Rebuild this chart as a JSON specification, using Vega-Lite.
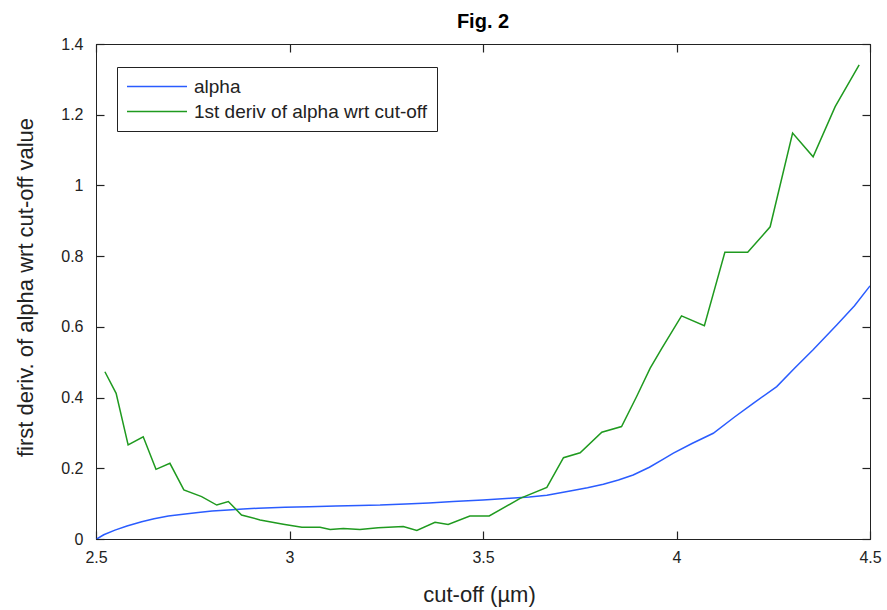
{
  "$schema": "https://vega.github.io/schema/vega-lite/v6.json",
  "width": 774,
  "height": 495,
  "autosize": {"type": "none"},
  "padding": {"left": 96, "top": 44, "right": 17, "bottom": 71},
  "background": "white",
  "title": {"text": "Fig. 2", "fontSize": 20, "fontWeight": "bold", "font": "Liberation Sans", "anchor": "middle", "offset": 4, "color": "black"},
  "config": {
    "font": "Liberation Sans",
    "view": {"stroke": "black", "strokeWidth": 1},
    "axis": {"grid": false, "domainColor": "#222", "tickColor": "#222", "labelColor": "#222", "titleColor": "#222", "labelFont": "Liberation Sans", "titleFont": "Liberation Sans", "titleFontWeight": "normal"}
  },
  "datasets": {
    "curves": [
      {"x": 2.502, "y": 0.0, "s": "alpha"},
      {"x": 2.52, "y": 0.012, "s": "alpha"},
      {"x": 2.549, "y": 0.025, "s": "alpha"},
      {"x": 2.58, "y": 0.037, "s": "alpha"},
      {"x": 2.618, "y": 0.049, "s": "alpha"},
      {"x": 2.65, "y": 0.057, "s": "alpha"},
      {"x": 2.687, "y": 0.065, "s": "alpha"},
      {"x": 2.725, "y": 0.07, "s": "alpha"},
      {"x": 2.764, "y": 0.075, "s": "alpha"},
      {"x": 2.8, "y": 0.079, "s": "alpha"},
      {"x": 2.842, "y": 0.082, "s": "alpha"},
      {"x": 2.88, "y": 0.085, "s": "alpha"},
      {"x": 2.919, "y": 0.087, "s": "alpha"},
      {"x": 2.988, "y": 0.09, "s": "alpha"},
      {"x": 3.05, "y": 0.091, "s": "alpha"},
      {"x": 3.12, "y": 0.093, "s": "alpha"},
      {"x": 3.18, "y": 0.095, "s": "alpha"},
      {"x": 3.234, "y": 0.096, "s": "alpha"},
      {"x": 3.3, "y": 0.099, "s": "alpha"},
      {"x": 3.36, "y": 0.102, "s": "alpha"},
      {"x": 3.423, "y": 0.106, "s": "alpha"},
      {"x": 3.5, "y": 0.11, "s": "alpha"},
      {"x": 3.57, "y": 0.115, "s": "alpha"},
      {"x": 3.62, "y": 0.119, "s": "alpha"},
      {"x": 3.665, "y": 0.124, "s": "alpha"},
      {"x": 3.725, "y": 0.136, "s": "alpha"},
      {"x": 3.77, "y": 0.145, "s": "alpha"},
      {"x": 3.811, "y": 0.155, "s": "alpha"},
      {"x": 3.85, "y": 0.167, "s": "alpha"},
      {"x": 3.888, "y": 0.181, "s": "alpha"},
      {"x": 3.93, "y": 0.203, "s": "alpha"},
      {"x": 3.966, "y": 0.226, "s": "alpha"},
      {"x": 3.992, "y": 0.243, "s": "alpha"},
      {"x": 4.04, "y": 0.27, "s": "alpha"},
      {"x": 4.095, "y": 0.299, "s": "alpha"},
      {"x": 4.15, "y": 0.345, "s": "alpha"},
      {"x": 4.2, "y": 0.385, "s": "alpha"},
      {"x": 4.259, "y": 0.431, "s": "alpha"},
      {"x": 4.305, "y": 0.483, "s": "alpha"},
      {"x": 4.353, "y": 0.535, "s": "alpha"},
      {"x": 4.414, "y": 0.605, "s": "alpha"},
      {"x": 4.46, "y": 0.66, "s": "alpha"},
      {"x": 4.5, "y": 0.716, "s": "alpha"},
      {"x": 2.523, "y": 0.473, "s": "1st deriv of alpha wrt cut-off"},
      {"x": 2.552, "y": 0.412, "s": "1st deriv of alpha wrt cut-off"},
      {"x": 2.583, "y": 0.266, "s": "1st deriv of alpha wrt cut-off"},
      {"x": 2.622, "y": 0.289, "s": "1st deriv of alpha wrt cut-off"},
      {"x": 2.655, "y": 0.197, "s": "1st deriv of alpha wrt cut-off"},
      {"x": 2.691, "y": 0.214, "s": "1st deriv of alpha wrt cut-off"},
      {"x": 2.727, "y": 0.139, "s": "1st deriv of alpha wrt cut-off"},
      {"x": 2.773, "y": 0.12, "s": "1st deriv of alpha wrt cut-off"},
      {"x": 2.812, "y": 0.096, "s": "1st deriv of alpha wrt cut-off"},
      {"x": 2.842, "y": 0.106, "s": "1st deriv of alpha wrt cut-off"},
      {"x": 2.876, "y": 0.068, "s": "1st deriv of alpha wrt cut-off"},
      {"x": 2.924, "y": 0.054, "s": "1st deriv of alpha wrt cut-off"},
      {"x": 2.984, "y": 0.042, "s": "1st deriv of alpha wrt cut-off"},
      {"x": 3.032, "y": 0.033, "s": "1st deriv of alpha wrt cut-off"},
      {"x": 3.079, "y": 0.033, "s": "1st deriv of alpha wrt cut-off"},
      {"x": 3.105, "y": 0.027, "s": "1st deriv of alpha wrt cut-off"},
      {"x": 3.139, "y": 0.03, "s": "1st deriv of alpha wrt cut-off"},
      {"x": 3.182, "y": 0.027, "s": "1st deriv of alpha wrt cut-off"},
      {"x": 3.229, "y": 0.032, "s": "1st deriv of alpha wrt cut-off"},
      {"x": 3.294, "y": 0.035, "s": "1st deriv of alpha wrt cut-off"},
      {"x": 3.329, "y": 0.024, "s": "1st deriv of alpha wrt cut-off"},
      {"x": 3.376, "y": 0.047, "s": "1st deriv of alpha wrt cut-off"},
      {"x": 3.41, "y": 0.041, "s": "1st deriv of alpha wrt cut-off"},
      {"x": 3.466, "y": 0.065, "s": "1st deriv of alpha wrt cut-off"},
      {"x": 3.516, "y": 0.065, "s": "1st deriv of alpha wrt cut-off"},
      {"x": 3.596, "y": 0.115, "s": "1st deriv of alpha wrt cut-off"},
      {"x": 3.665, "y": 0.146, "s": "1st deriv of alpha wrt cut-off"},
      {"x": 3.708, "y": 0.23, "s": "1st deriv of alpha wrt cut-off"},
      {"x": 3.751, "y": 0.244, "s": "1st deriv of alpha wrt cut-off"},
      {"x": 3.807, "y": 0.302, "s": "1st deriv of alpha wrt cut-off"},
      {"x": 3.858, "y": 0.318, "s": "1st deriv of alpha wrt cut-off"},
      {"x": 3.897, "y": 0.403, "s": "1st deriv of alpha wrt cut-off"},
      {"x": 3.932, "y": 0.483, "s": "1st deriv of alpha wrt cut-off"},
      {"x": 3.962, "y": 0.539, "s": "1st deriv of alpha wrt cut-off"},
      {"x": 4.013, "y": 0.631, "s": "1st deriv of alpha wrt cut-off"},
      {"x": 4.072, "y": 0.603, "s": "1st deriv of alpha wrt cut-off"},
      {"x": 4.125, "y": 0.811, "s": "1st deriv of alpha wrt cut-off"},
      {"x": 4.184, "y": 0.811, "s": "1st deriv of alpha wrt cut-off"},
      {"x": 4.242, "y": 0.883, "s": "1st deriv of alpha wrt cut-off"},
      {"x": 4.3, "y": 1.148, "s": "1st deriv of alpha wrt cut-off"},
      {"x": 4.353, "y": 1.081, "s": "1st deriv of alpha wrt cut-off"},
      {"x": 4.41, "y": 1.223, "s": "1st deriv of alpha wrt cut-off"},
      {"x": 4.472, "y": 1.341, "s": "1st deriv of alpha wrt cut-off"}
    ]
  },
  "data": {"name": "curves"},
  "resolve": {"axis": {"x": "independent", "y": "independent"}},
  "layer": [
    {
      "mark": {"type": "line", "strokeWidth": 1.5, "clip": true},
      "encoding": {
        "x": {"field": "x", "type": "quantitative", "scale": {"domain": [2.5, 4.5], "nice": false, "zero": false},
          "axis": {"orient": "bottom", "values": [2.5, 3, 3.5, 4, 4.5], "format": "~g", "tickSize": -8, "tickWidth": 1.2, "labelPadding": 18, "labelFontSize": 16, "labelBaseline": "top", "labelFlush": false,
            "title": "cut-off (µm)", "titleFontSize": 22, "titleX": 383, "titleY": 62, "titleBaseline": "alphabetic", "titleAnchor": null}},
        "y": {"field": "y", "type": "quantitative", "scale": {"domain": [0, 1.4], "nice": false},
          "axis": {"orient": "left", "values": [0, 0.2, 0.4, 0.6, 0.8, 1, 1.2, 1.4], "format": "~g", "tickSize": -8, "tickWidth": 1.2, "labelPadding": 21, "labelFontSize": 16, "labelFlush": false,
            "title": "first deriv. of alpha wrt cut-off value", "titleFontSize": 22, "titleAngle": -90, "titleX": -64, "titleY": 243, "titleAlign": "center", "titleBaseline": "alphabetic"}},
        "color": {"field": "s", "type": "nominal",
          "scale": {"domain": ["alpha", "1st deriv of alpha wrt cut-off"], "range": ["#2a5cff", "#1f9a1f"]},
          "legend": {"title": null, "orient": "none", "legendX": 21, "legendY": 23, "direction": "vertical",
            "symbolType": "stroke", "symbolSize": 3600, "symbolStrokeWidth": 1.5, "clipHeight": 21, "rowPadding": 4,
            "labelFontSize": 19, "labelFont": "Liberation Sans", "labelColor": "#222", "labelOffset": 6, "labelLimit": 0,
            "strokeColor": "#222", "fillColor": "white", "padding": 9, "symbolOffset": 0}}
      }
    },
    {
      "mark": {"type": "line", "strokeOpacity": 0},
      "encoding": {
        "x": {"field": "x", "type": "quantitative", "scale": {"domain": [2.5, 4.5], "nice": false, "zero": false},
          "axis": {"orient": "top", "values": [2.5, 3, 3.5, 4, 4.5], "tickSize": -8, "tickWidth": 1.2, "labels": false, "title": null}},
        "y": {"field": "y", "type": "quantitative", "scale": {"domain": [0, 1.4], "nice": false},
          "axis": {"orient": "right", "values": [0, 0.2, 0.4, 0.6, 0.8, 1, 1.2, 1.4], "tickSize": -8, "tickWidth": 1.2, "labels": false, "title": null}},
        "detail": {"field": "s", "type": "nominal"}
      }
    }
  ]
}
